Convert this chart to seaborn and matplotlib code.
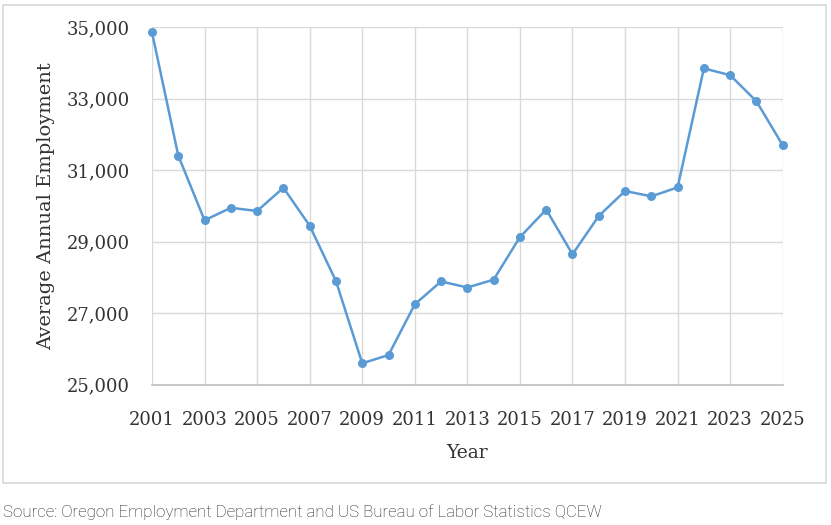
import matplotlib
matplotlib.use("Agg")
import matplotlib.pyplot as plt
import matplotlib.patches as mpatches
import matplotlib.ticker as mticker
import pandas as pd
import seaborn as sns

# values
years = list(range(2001, 2026))
employment = [
    34860, 31410, 29600, 29950, 29860, 30510, 29450, 27900, 25600, 25830,
    27250, 27890, 27720, 27940, 29130, 29900, 28650, 29720, 30420, 30270,
    30520, 33850, 33660, 32930, 31700,
]
x_ticks = list(range(2001, 2026, 2))
y_ticks = [25000, 27000, 29000, 31000, 33000, 35000]

df = pd.DataFrame({"Year": years, "Employment": employment})

sns.set_style("white")
plt.rcParams["font.family"] = ["DejaVu Serif"]

fig = plt.figure(figsize=(8.31, 5.25), dpi=100)
ax = fig.add_axes([0.1829, 0.2672, 0.7590, 0.6808])

sns.lineplot(
    data=df,
    x="Year",
    y="Employment",
    ax=ax,
    color="#5b9bd5",
    linewidth=1.8,
    marker="o",
    markersize=6.5,
    markeredgewidth=0,
    clip_on=False,
    zorder=3,
)

ax.set_xlim(2001, 2025)
ax.set_ylim(25000, 35000)
ax.set_xticks(x_ticks)
ax.set_yticks(y_ticks)
ax.yaxis.set_major_formatter(mticker.StrMethodFormatter("{x:,.0f}"))
ax.grid(True, color="#d9d9d9", linewidth=1.0)
ax.set_axisbelow(True)
for side in ["top", "right", "left"]:
    ax.spines[side].set_visible(False)
ax.spines["bottom"].set_color("#bfbfbf")
ax.spines["bottom"].set_linewidth(1.2)
ax.tick_params(axis="both", length=0, labelsize=13, colors="#333333")
ax.tick_params(axis="x", pad=19)
ax.tick_params(axis="y", pad=16)
ax.set_xlabel("Year", fontsize=13.5, color="#333333", labelpad=11)
ax.set_ylabel("Average Annual Employment", fontsize=14, color="#333333", labelpad=8)

# outer chart border
fig.patches.append(
    mpatches.Rectangle(
        (3 / 831, 1 - 483 / 525), 823 / 831, 478 / 525,
        transform=fig.transFigure, fill=False, edgecolor="#d9d9d9", linewidth=1.2,
    )
)

fig.text(
    3 / 831, 1 - 512 / 525,
    "Source: Oregon Employment Department and US Bureau of Labor Statistics QCEW",
    family=["Roboto", "DejaVu Sans"], fontweight="light", fontsize=12.2,
    color="#262626", va="center", ha="left",
)

fig.savefig("out.png", dpi=100)
